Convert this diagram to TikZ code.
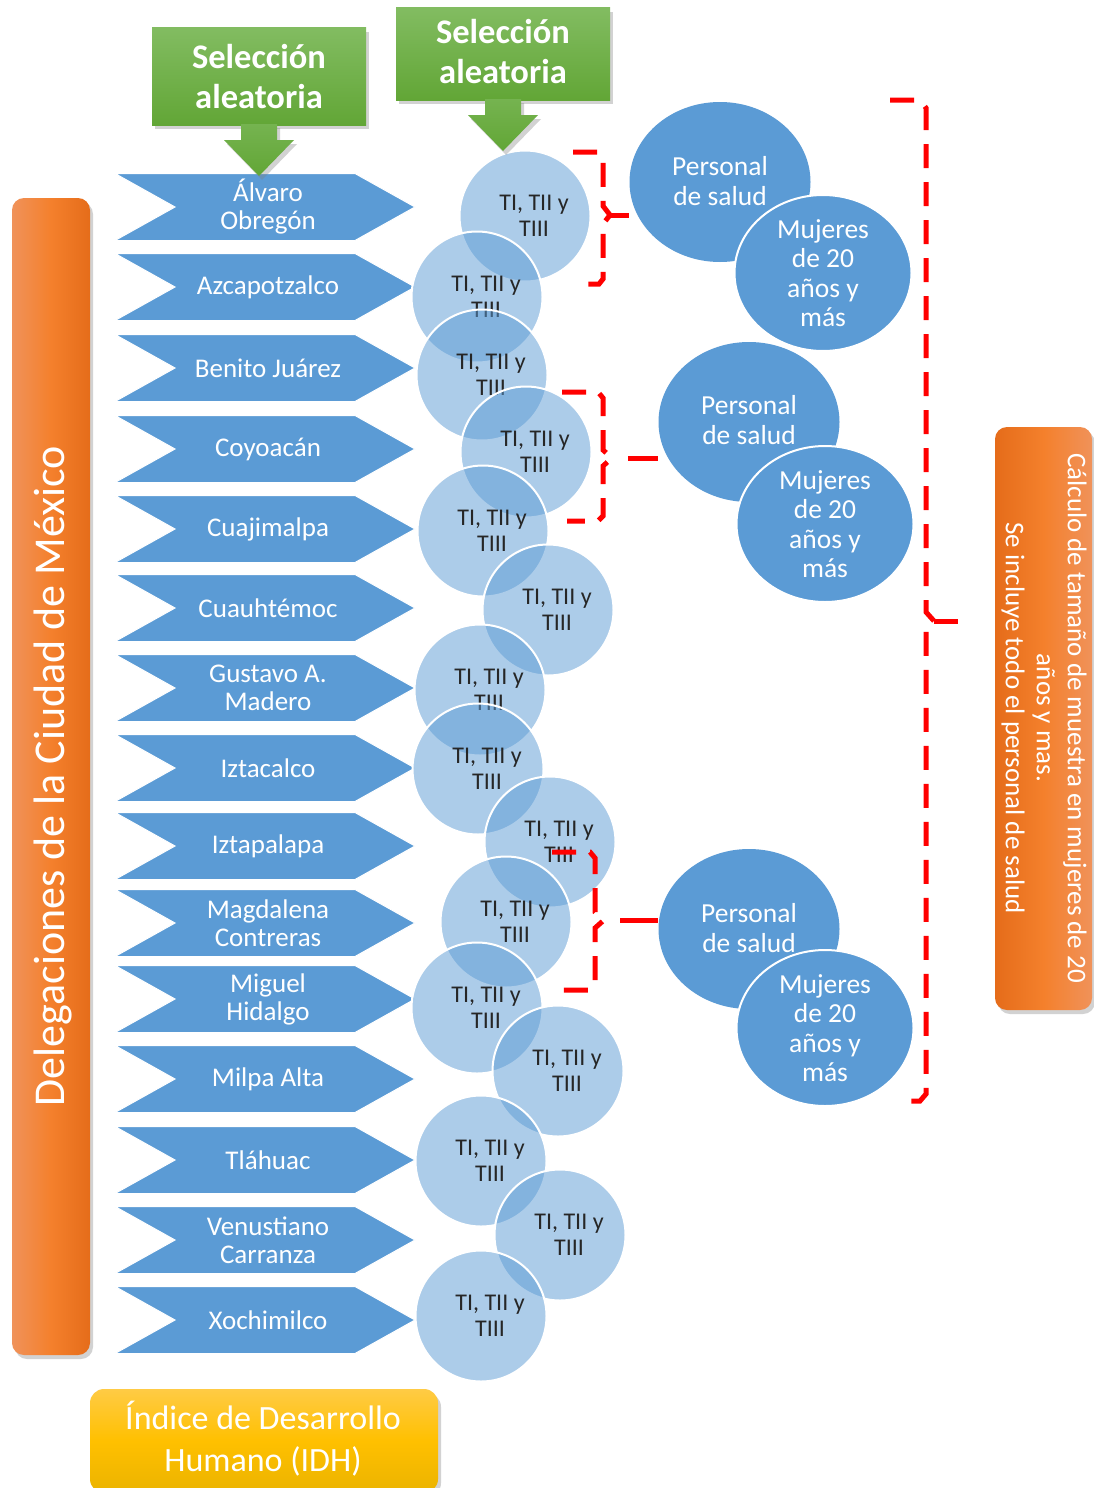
\documentclass[tikz,border=0pt]{standalone}
\usepackage{fontspec}
\setmainfont{Carlito}
\usetikzlibrary{shapes.geometric,shadows,calc}
\definecolor{cblue}{HTML}{5B9BD5}
\definecolor{gtop}{HTML}{82BC61}
\definecolor{gbot}{HTML}{62A636}
\definecolor{olight}{HTML}{F0925A}
\definecolor{omid}{HTML}{F4802C}
\definecolor{odark}{HTML}{E56C1A}
\definecolor{ytop}{HTML}{FFCB45}
\definecolor{ymid}{HTML}{FFC000}
\definecolor{ybot}{HTML}{EBB300}
\definecolor{cred}{HTML}{FF0000}
\tikzset{
  chevshape/.style={fill=cblue, draw=white, line width=1pt},
  chevtext/.style={text=white, font=\fontsize{27}{28}\selectfont, align=center, inner sep=0pt},
  tcirc/.style={circle, draw=white, line width=2pt, fill=cblue, fill opacity=0.5, minimum size=131pt, inner sep=0pt},
  ttext/.style={font=\fontsize{24}{26}\selectfont, text=black!85, align=center, inner sep=0pt},
  persell/.style={ellipse, fill=cblue, minimum width=181pt, minimum height=160pt, inner sep=0pt},
  mujell/.style={ellipse, fill=cblue, draw=white, line width=2pt, minimum width=177pt, minimum height=156pt, inner sep=0pt},
  bigtext/.style={text=white, font=\fontsize{27.5}{29.5}\selectfont, align=center, inner sep=0pt},
  reddash/.style={draw=cred, line width=5pt, dash pattern=on 24pt off 14pt, line cap=butt},
  shad/.style={drop shadow={opacity=0.35, shadow xshift=3pt, shadow yshift=-4pt}},
  greenbox/.style={top color=gtop, bottom color=gbot, minimum width=214pt, inner sep=0pt, shad},
  greentext/.style={text=white, font=\bfseries\fontsize{34.5}{40}\selectfont, align=center, inner sep=0pt},
}
\begin{document}
\begin{tikzpicture}[x=1pt,y=-1pt]
\useasboundingbox[fill=white] (0,0) rectangle (1093,1488);

% left orange bar
\node[rounded corners=12pt, left color=olight, right color=odark, middle color=omid,
      minimum width=78pt, minimum height=1157pt, shad] (lbar) at (51,776.5) {};
\node[rotate=90, text=white, font=\fontsize{44}{46}\selectfont, inner sep=0pt] (lbartext) at (53,776) {Delegaciones de la Ciudad de México};

% chevrons
\foreach \yy/\nm/\txt in {207/d1/{Álvaro\\Obregón}, 287/d2/{Azcapotzalco}, 368/d3/{Benito Juárez},
  449/d4/{Coyoacán}, 529/d5/{Cuajimalpa}, 608/d6/{Cuauhtémoc}, 688/d7/{Gustavo A.\\Madero},
  768/d8/{Iztacalco}, 846/d9/{Iztapalapa}, 923/d10/{Magdalena\\Contreras}, 999/d11/{Miguel\\Hidalgo},
  1079/d12/{Milpa Alta}, 1160/d13/{Tláhuac}, 1240/d14/{Venustiano\\Carranza}, 1320/d15/{Xochimilco}}{
  \path[chevshape] (115,\yy-33.5) -- (355,\yy-33.5) -- (415,\yy) -- (355,\yy+33.5) -- (115,\yy+33.5) -- (175,\yy) -- cycle;
  \node[chevtext] (\nm) at (268,\yy) {\txt};
}

% small circles
\foreach \cx/\cy/\nm in {525/216/c1, 477/297/c2, 482/375/c3, 526/452/c4, 483/531/c5,
  548/610/c6, 480/690/c7, 478/769/c8, 550/842/c9, 506/922/c10, 477/1008/c11,
  558/1071/c12, 481/1161/c13, 560/1235/c14, 481/1316/c15}{
  \node[tcirc] (\nm) at (\cx,\cy) {};
  \node[ttext] (\nm t) at (\cx+9,\cy) {TI, TII y\\TIII};
}

% large ellipses
\node[persell] (p1) at (720,182) {};
\node[bigtext] (p1t) at (720,181) {Personal\\de salud};
\node[mujell] (m1) at (823,273) {};
\node[bigtext] (m1t) at (823,273) {Mujeres\\de 20\\años y\\más};

\node[persell] (p2) at (749,422) {};
\node[bigtext] (p2t) at (749,420) {Personal\\de salud};
\node[mujell] (m2) at (825,524) {};
\node[bigtext] (m2t) at (825,524) {Mujeres\\de 20\\años y\\más};

\node[persell] (p3) at (749,929) {};
\node[bigtext] (p3t) at (749,928) {Personal\\de salud};
\node[mujell] (m3) at (825,1028) {};
\node[bigtext] (m3t) at (825,1028) {Mujeres\\de 20\\años y\\más};

% red dashed brackets
\coordinate (b1) at (610,215);
\draw[reddash] (573,152) -- (599,152) -- (603,158) -- (603,206) -- (b1) -- (603,224) -- (603,279) -- (599,284) -- (587,284);
\draw[reddash, dash pattern=on 30pt off 0pt] (b1) -- (b1 -| p1.west);

\coordinate (b2) at (612,458);
\draw[reddash] (562,392) -- (598,392) -- (603,398) -- (603,450) -- (b2) -- (603,466) -- (603,516) -- (598,521) -- (567,521);
\draw[reddash, dash pattern=on 0pt off 16pt on 40pt] (b2) -- (b2 -| p2.west);

\coordinate (b3) at (604,920);
\draw[reddash] (552,852) -- (590,852) -- (595,858) -- (595,912) -- (b3) -- (595,928) -- (595,985) -- (590,990) -- (560,990);
\draw[reddash, dash pattern=on 0pt off 16pt on 40pt] (b3) -- (b3 -| p3.west);

\coordinate (b4) at (934,621);
\coordinate (b4end) at (958,621);
\draw[reddash] (890,100) -- (920,100) -- (926,108) -- (926,612) -- (b4) -- (926,630) -- (926,1094) -- (920,1101) -- (908,1101);
\draw[reddash, dash pattern=on 30pt off 0pt] (b4) -- (b4end);

% green boxes with arrows
\node[greenbox, minimum height=97pt] (g1) at (259,76.5) {};
\path[top color=gtop!60!gbot, bottom color=gbot, shad] (241,124) -- (277,124) -- (277,140) -- (294,140) -- (259,176) -- (224,140) -- (241,140) -- cycle;
\node[greentext] (g1t) at (259,77) {Selección\\aleatoria};

\node[greenbox, minimum height=92pt] (g2) at (503,54) {};
\path[top color=gtop!60!gbot, bottom color=gbot, shad] (485,99) -- (521,99) -- (521,115) -- (538,115) -- (503,151) -- (468,115) -- (485,115) -- cycle;
\node[greentext] (g2t) at (503,52) {Selección\\aleatoria};

% yellow box
\node[rounded corners=14pt, top color=ytop, bottom color=ybot, middle color=ymid,
      minimum width=348pt, minimum height=104pt, shad] (idh) at (264,1441) {};
\node[text=white, font=\fontsize{34}{42}\selectfont, align=center, inner sep=0pt] (idht) at (263,1439) {Índice de Desarrollo\\Humano (IDH)};

% right orange box
\node[rounded corners=12pt, left color=odark, right color=olight, middle color=omid,
      minimum width=97pt, minimum height=583pt, shad] (rbox) at (1043.5,718.5) {};
\node[rotate=-90, text=white, font=\fontsize{27}{31}\selectfont, align=center, inner sep=0pt] (rboxt) at (1044,718) {Cálculo de tamaño de muestra en mujeres de 20\\años y mas.\\Se incluye todo el personal de salud};
\end{tikzpicture}
\end{document}
